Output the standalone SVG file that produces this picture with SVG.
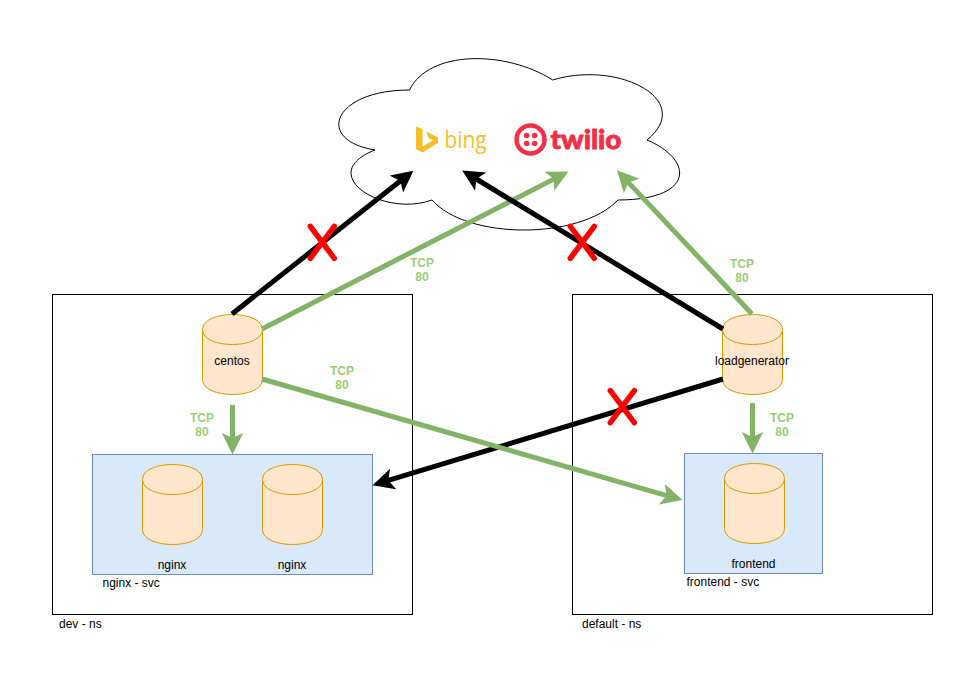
<svg xmlns="http://www.w3.org/2000/svg" width="973" height="675" viewBox="0 0 973 675">
<style>
text{font-family:"Liberation Sans",Arial,sans-serif;font-size:12px;fill:#000}
.c{text-anchor:middle}
.tcp{font-weight:bold;fill:#97d077;text-anchor:middle}
.ns{fill:#fff;stroke:#000;stroke-width:1}
.svc{fill:#dae8fc;stroke:#6c8ebf;stroke-width:1}
.cb{fill:#ffe6cc;stroke:#d79b00;stroke-width:1}
.k{stroke:#000;stroke-width:5;fill:none;marker-end:url(#ak)}
.g{stroke:#82b366;stroke-width:5;fill:none;marker-end:url(#ag)}
.x{stroke:#ff0000;stroke-width:5.5;stroke-linecap:round;fill:none}
</style>
<defs>
<marker id="ak" markerUnits="userSpaceOnUse" markerWidth="23" markerHeight="24" refX="6" refY="11" orient="auto"><path d="M0 0.3L21.5 11L0 21.7L5 11Z" fill="#000"/></marker>
<marker id="ag" markerUnits="userSpaceOnUse" markerWidth="23" markerHeight="24" refX="6" refY="11" orient="auto"><path d="M0 0.3L21.5 11L0 21.7L5 11Z" fill="#82b366"/></marker>
<g id="cy"><path class="cb" d="M0 15C0 -5 60 -5 60 15V65C60 85 0 85 0 65Z"/><path class="cb" d="M0 15C0 35 60 35 60 15" fill="none"/></g>
</defs>
<rect width="973" height="675" fill="#fff"/>
<g id="cloud"><path d="M409.5 90C333.15 90 314 140 375 150C314 174 382.94 218 432 200C467.2 240 580 240 618 200C694.5 200 694.5 160 647 140C696 100 618 60 552.7 80C505.5 50 428.9 50 409.5 90Z" fill="#fff" stroke="#000" stroke-width="1"/></g>
<g id="logo-bing"><path d="M416 126.5L422.5 129V146.5L433 140.5L429 138.5L426.2 131.5L438 137.5V143L422.5 152.5L416 149Z" fill="#f5bd27"/><text x="444.5" y="148" style="font-family:'Open Sans',sans-serif;font-size:24px;font-weight:400;fill:#f5bd27" textLength="42" lengthAdjust="spacingAndGlyphs">bing</text></g>
<g id="logo-twilio"><circle cx="530.5" cy="139.5" r="14" fill="none" stroke="#f22f46" stroke-width="4.5"/><g fill="#f22f46"><circle cx="526.7" cy="135.5" r="2.8"/><circle cx="534.7" cy="135.5" r="2.8"/><circle cx="526.7" cy="143.5" r="2.8"/><circle cx="534.7" cy="143.5" r="2.8"/></g><text x="550.5" y="149" style="font-family:Lato,sans-serif;font-size:26px;font-weight:900;fill:#f22f46;stroke:#f22f46;stroke-width:.8" textLength="71" lengthAdjust="spacingAndGlyphs">twilio</text></g>
<g id="dev-ns"><rect class="ns" x="52.5" y="294.5" width="360" height="320"/><text x="59" y="628">dev - ns</text></g>
<g id="default-ns"><rect class="ns" x="572.5" y="294.5" width="360" height="320"/><text x="582" y="628">default - ns</text></g>
<g id="nginx-svc"><rect class="svc" x="92.5" y="454.5" width="280" height="120"/><text x="102.5" y="587">nginx - svc</text></g>
<g id="frontend-svc"><rect class="svc" x="684.5" y="453.5" width="138" height="120"/><text x="686.5" y="586">frontend - svc</text></g>
<g id="centos"><use href="#cy" x="202.5" y="314.5"/><text class="c" x="232" y="365">centos</text></g>
<g id="loadgenerator"><use href="#cy" x="722.5" y="314.5"/><text class="c" x="752" y="365">loadgenerator</text></g>
<g id="nginx-1"><use href="#cy" x="142.5" y="464.5"/><text class="c" x="172" y="569">nginx</text></g>
<g id="nginx-2"><use href="#cy" x="262.5" y="464.5"/><text class="c" x="292" y="569">nginx</text></g>
<g id="frontend"><use href="#cy" x="724.5" y="463.5"/><text class="c" x="753.5" y="568">frontend</text></g>
<g id="connectors">
<path class="k" d="M232 314L401.2 180.3"/>
<path class="g" d="M262 329L554.7 178.6"/>
<path class="k" d="M723 329L475.5 178.5"/>
<path class="g" d="M752 314L627.6 181.6"/>
<path class="k" d="M723 379L387.4 480.7"/>
<path class="g" d="M262 379L667.6 495.8"/>
<path class="g" d="M232.5 405V439"/>
<path class="g" d="M752.5 403V438"/>
</g>
<g id="marks">
<path class="x" d="M310.3 226.3L334.3 258.3M334.3 226.3L310.3 258.3"/>
<path class="x" d="M570.3 226.3L594.3 258.3M594.3 226.3L570.3 258.3"/>
<path class="x" d="M610.3 390.7L634.3 422.7M634.3 390.7L610.3 422.7"/>
</g>
<g id="labels">
<text class="tcp" x="422" y="267">TCP</text><text class="tcp" x="422" y="281">80</text>
<text class="tcp" x="342" y="375">TCP</text><text class="tcp" x="342" y="389">80</text>
<text class="tcp" x="202" y="422">TCP</text><text class="tcp" x="202" y="436">80</text>
<text class="tcp" x="782" y="422">TCP</text><text class="tcp" x="782" y="436">80</text>
<text class="tcp" x="742" y="268">TCP</text><text class="tcp" x="742" y="282">80</text>
</g>
</svg>
